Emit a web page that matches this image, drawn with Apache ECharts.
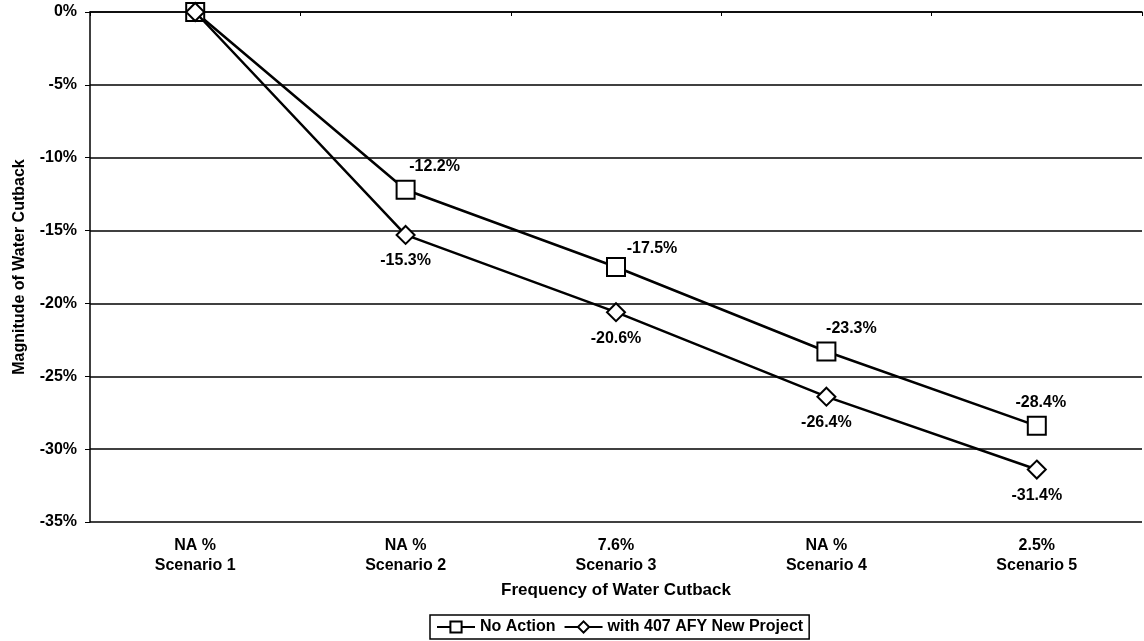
<!DOCTYPE html>
<html>
<head>
<meta charset="utf-8">
<script src="https://cdn.jsdelivr.net/npm/echarts@6/dist/echarts.min.js"></script>
<style>html,body{margin:0;padding:0;background:#fff}#c{width:1144px;height:641px}</style>
</head>
<body>
<div id="c"></div>
<script>
const frequencies = ['NA %', 'NA %', '7.6%', 'NA %', '2.5%'];
const scenarios = ['Scenario 1', 'Scenario 2', 'Scenario 3', 'Scenario 4', 'Scenario 5'];
const noAction = [0, -12.2, -17.5, -23.3, -28.4];
const withProject = [0, -15.3, -20.6, -26.4, -31.4];
const yTicks = [0, -5, -10, -15, -20, -25, -30, -35];

const categories = frequencies.map((f, i) => f + '\n' + scenarios[i]);
const font = 'Liberation Sans, Arial, sans-serif';

// label nudges (styling only)
const noActionDx = [0, 29, 36, 25, 4];
const noActionDy = [0, 0, 5, 0, 0];

function buildData(values, labelFn) {
  return values.map((v, i) => ({
    value: v,
    label: i === 0 ? { show: false } : labelFn(i)
  }));
}

const labelStyle = {
  fontFamily: font, fontWeight: 'bold', fontSize: 16, color: '#000',
  formatter: p => p.value.toFixed(1) + '%'
};

const chart = echarts.init(document.getElementById('c'));
chart.setOption({
  animation: false,
  backgroundColor: '#fff',
  grid: { left: 90, right: 2, top: 12, bottom: 119 },
  xAxis: {
    type: 'category',
    data: categories,
    boundaryGap: true,
    name: 'Frequency of Water Cutback',
    nameLocation: 'middle',
    nameGap: 60,
    nameTextStyle: { fontFamily: font, fontWeight: 'bold', fontSize: 17, color: '#000' },
    axisLine: { lineStyle: { color: '#000', width: 1.5 } },
    axisTick: { show: true, length: 4, lineStyle: { color: '#000' } },
    axisLabel: { fontFamily: font, fontWeight: 'bold', fontSize: 16, color: '#000', margin: 14, lineHeight: 20 }
  },
  yAxis: {
    type: 'value',
    min: -35,
    max: 0,
    interval: 5,
    name: 'Magnitude of Water Cutback',
    nameLocation: 'middle',
    nameGap: 62,
    nameTextStyle: { fontFamily: font, fontWeight: 'bold', fontSize: 16, color: '#000' },
    axisLine: { show: true, lineStyle: { color: '#000', width: 1.5 } },
    axisTick: { show: true, length: 5, lineStyle: { color: '#000' } },
    axisLabel: {
      fontFamily: font, fontWeight: 'bold', fontSize: 16, color: '#000', margin: 13,
      formatter: v => (yTicks.indexOf(v) >= 0 ? v + '%' : '')
    },
    splitLine: { show: true, lineStyle: { color: '#000', width: 1.5 } }
  },
  legend: {
    top: 615,
    left: 430,
    itemWidth: 38,
    itemHeight: 14,
    itemGap: 8,
    padding: [4, 6],
    borderColor: '#000',
    borderWidth: 1.5,
    textStyle: { fontFamily: font, fontWeight: 'bold', fontSize: 16, color: '#000' },
    data: ['No Action', 'with 407 AFY New Project']
  },
  series: [
    {
      name: 'No Action',
      type: 'line',
      data: buildData(noAction, i => ({ show: true, position: 'top', offset: [noActionDx[i], noActionDy[i]] })),
      symbol: 'rect',
      symbolSize: 18,
      lineStyle: { color: '#000', width: 2.5 },
      itemStyle: { color: '#fff', borderColor: '#000', borderWidth: 2 },
      label: labelStyle,
      z: 3
    },
    {
      name: 'with 407 AFY New Project',
      type: 'line',
      data: buildData(withProject, i => ({ show: true, position: 'bottom', offset: [0, 3] })),
      symbol: 'diamond',
      symbolSize: 18,
      lineStyle: { color: '#000', width: 2.5 },
      itemStyle: { color: '#fff', borderColor: '#000', borderWidth: 2 },
      label: labelStyle,
      z: 4
    }
  ]
});
</script>
</body>
</html>
